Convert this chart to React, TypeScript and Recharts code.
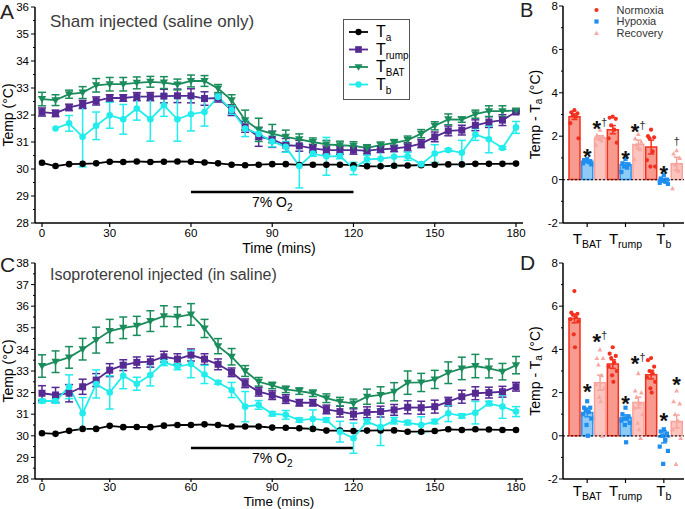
import React from 'react';
import {
  LineChart, Line, XAxis, YAxis, ErrorBar, ReferenceLine, Legend,
  ComposedChart, Bar, Cell, Scatter,
} from 'recharts';

const FONT = '"Liberation Sans", Arial, Helvetica, sans-serif';

// ---------- time course data ----------
const times = [0, 6, 12, 18, 24, 30, 35, 40, 45, 50, 55, 60, 65, 70, 75, 80, 85, 90, 95, 100,
  105, 110, 115, 120, 125, 130, 135, 140, 145, 150, 155, 160, 165, 170, 175, 180];
const timeTicks = [0, 30, 60, 90, 120, 150, 180];
const hypoxiaWindow = [60, 120];

// Panel A: sham
const shamTa = [30.23, 30.11, 30.18, 30.19, 30.21, 30.27, 30.26, 30.28, 30.26, 30.27, 30.28, 30.27, 30.24, 30.21, 30.16, 30.14,
  30.16, 30.18, 30.18, 30.15, 30.16, 30.16, 30.16, 30.14, 30.1, 30.1, 30.12, 30.13, 30.14, 30.16, 30.17, 30.17, 30.19, 30.19, 30.19, 30.2];
const shamTrump = [32.11, 32.06, 32.28, 32.39, 32.52, 32.63, 32.63, 32.68, 32.68, 32.7, 32.71, 32.71, 32.61, 32.63, 32.18, 31.56,
  31.19, 31.1, 30.88, 30.86, 30.76, 30.7, 30.7, 30.7, 30.68, 30.73, 30.76, 30.82, 30.94, 31.19, 31.41, 31.44, 31.62, 31.74, 31.81, 32.11];
const shamTrumpSem = [0.15, 0.12, 0.12, 0.15, 0.15, 0.12, 0.12, 0.15, 0.15, 0.25, 0.25, 0.26, 0.25, 0.15, 0.2, 0.2,
  0.35, 0.3, 0.25, 0.2, 0.15, 0.15, 0.15, 0.15, 0.12, 0.12, 0.12, 0.15, 0.15, 0.18, 0.18, 0.18, 0.2, 0.2, 0.2, 0.05];
const shamBat = [32.59, 32.55, 32.77, 32.83, 33.1, 33.14, 33.14, 33.19, 33.23, 33.2, 33.13, 33.26, 33.26, 32.98, 32.55, 31.81,
  31.45, 31.31, 31.19, 31.1, 31.0, 30.91, 30.88, 30.86, 30.78, 30.88, 30.97, 31.07, 31.31, 31.6, 31.84, 31.83, 32.03, 32.14, 32.14, 32.17];
const shamBatSem = [0.25, 0.2, 0.15, 0.22, 0.25, 0.25, 0.25, 0.22, 0.2, 0.22, 0.2, 0.22, 0.2, 0.15, 0.2, 0.37,
  0.43, 0.34, 0.25, 0.2, 0.15, 0.15, 0.15, 0.15, 0.12, 0.12, 0.12, 0.15, 0.15, 0.15, 0.2, 0.1, 0.15, 0.2, 0.2, 0.05];
const shamTb = [null, 31.5, 31.69, 31.19, 31.6, 31.99, 31.84, 32.24, 31.84, 32.36, 31.84, 32.03, 32.11, 32.67, 32.18, 31.5,
  31.3, 31.02, 30.82, 30.11, 30.57, 30.47, 30.48, 30.02, 30.36, 30.38, 30.45, 30.47, 30.18, 30.57, 30.7, 30.6, 31.28, 31.1, 30.78, 31.54];
const shamTbSem = [null, 0, 0.29, 1.11, 0.51, 0.48, 0.55, 0.43, 0.81, 0.41, 0.81, 0.62, 0.52, 0.1, 0.15, 0.3,
  0.2, 0.2, 0.2, 0.81, 0.1, 0.7, 0.1, 0.23, 0.15, 0.3, 0.37, 0.15, 0.05, 0.33, 0.05, 0.46, 0.22, 0.5, 0.05, 0.22];
const shamYTicks = [28, 28.5, 29, 29.5, 30, 30.5, 31, 31.5, 32, 32.5, 33, 33.5, 34, 34.5, 35, 35.5, 36];
const shamO2Level = 29.15;

// Panel C: isoproterenol
const isoTa = [30.12, 30.09, 30.23, 30.32, 30.32, 30.46, 30.4, 30.41, 30.4, 30.47, 30.5, 30.5, 30.53, 30.5, 30.43, 30.43,
  30.43, 30.38, 30.37, 30.35, 30.32, 30.24, 30.24, 30.22, 30.24, 30.25, 30.25, 30.19, 30.19, 30.22, 30.3, 30.27, 30.3, 30.29, 30.27, 30.27];
const isoTrump = [31.97, 31.89, 31.97, 32.27, 32.58, 33.04, 33.27, 33.4, 33.43, 33.66, 33.55, 33.74, 33.55, 33.31, 32.94, 32.43,
  32.04, 31.88, 31.7, 31.53, 31.53, 31.22, 31.12, 31.0, 31.09, 31.12, 31.2, 31.32, 31.3, 31.35, 31.58, 31.81, 31.97, 32.0, 32.04, 32.27];
const isoTrumpSem = [0.35, 0.35, 0.4, 0.35, 0.3, 0.3, 0.25, 0.25, 0.25, 0.25, 0.25, 0.28, 0.25, 0.25, 0.2, 0.2,
  0.2, 0.2, 0.2, 0.15, 0.15, 0.2, 0.25, 0.25, 0.25, 0.25, 0.25, 0.3, 0.3, 0.3, 0.2, 0.3, 0.3, 0.25, 0.25, 0.2];
const isoBat = [33.23, 33.43, 33.63, 34.01, 34.43, 34.85, 35.0, 35.09, 35.31, 35.54, 35.51, 35.62, 34.97, 34.15, 33.66, 33.0,
  32.5, 32.33, 32.15, 32.07, 31.97, 31.74, 31.58, 31.5, 31.81, 31.89, 32.04, 32.46, 32.47, 32.61, 32.92, 33.12, 33.23, 33.12, 32.97, 33.27];
const isoBatSem = [0.52, 0.5, 0.5, 0.5, 0.6, 0.54, 0.5, 0.44, 0.48, 0.48, 0.46, 0.5, 0.42, 0.35, 0.38, 0.25,
  0.2, 0.15, 0.15, 0.15, 0.15, 0.2, 0.2, 0.2, 0.35, 0.38, 0.42, 0.54, 0.42, 0.42, 0.5, 0.52, 0.54, 0.44, 0.38, 0.4];
const isoTb = [31.61, 31.61, 32.27, 31.04, 32.4, 32.01, 32.78, 32.41, 32.81, 33.4, 33.2, 33.32, 32.84, 32.47, 32.12, 31.35,
  31.43, 31.02, 30.97, 30.73, 30.78, 30.73, 30.19, 29.89, 30.66, 30.4, 30.7, 30.61, 30.5, 30.66, 31.04, 30.92, 31.07, 31.5, 31.35, 31.12];
const isoTbSem = [0.08, 0.1, 0.55, 0.73, 0.65, 0.77, 0.6, 0.3, 0.5, 0.15, 0.14, 0.63, 0.42, 0.08, 0.35, 0.7,
  0.2, 0.1, 0.2, 0.1, 0.42, 0.1, 0.48, 0.7, 0.1, 0.85, 0.15, 0.1, 0.38, 0.1, 0.38, 0.1, 0.52, 0.1, 0.54, 0.23];
const isoYTicks = [28, 28.5, 29, 29.5, 30, 30.5, 31, 31.5, 32, 32.5, 33, 33.5, 34, 34.5, 35, 35.5, 36, 36.5, 37, 37.5, 38];
const isoO2Level = 29.43;

// ---------- bar data (Temp - Ta) ----------
const barKeys = ['BAT-N', 'BAT-H', 'BAT-R', 'rump-N', 'rump-H', 'rump-R', 'b-N', 'b-H', 'b-R'];
const groupLabels = ['BAT', 'rump', 'b'];
const conditions = ['Normoxia', 'Hypoxia', 'Recovery'];
const diffYTicks = [-2, -1, 0, 1, 2, 3, 4, 5, 6, 7, 8];

const shamDiffMean = [2.9, 0.85, 1.92, 2.3, 0.68, 1.62, 1.5, -0.03, 0.73];
const shamDiffSem = [0.13, 0.05, 0.1, 0.19, 0.1, 0.2, 0.32, 0.07, 0.3];
const shamDiffPoints = [
  [3.2, 3.1, 3.05, 2.95, 2.9, 2.6, 1.9],
  [0.95, 0.9, 0.85, 0.85, 0.8, 0.75, 0.7],
  [2.3, 2.05, 2.0, 1.9, 1.8, 1.6],
  [2.9, 2.85, 2.8, 2.5, 2.3, 1.9, 1.7],
  [0.95, 0.75, 0.7, 0.6, 0.55, 0.35],
  [2.1, 1.9, 1.75, 1.6, 1.4, 0.95],
  [2.3, 2.0, 1.95, 1.9, 1.3, 0.9, 0.6, 0.6],
  [0.2, 0.05, 0.0, -0.05, -0.1, -0.15, -0.2],
  [1.35, 1.2, 1.0, 0.7, 0.4, -0.4],
];
const shamSig = ['', '*', '*†', '', '*', '*†', '', '*', '†'];
const shamSigLevel = [null, 1.27, 2.58, null, 1.2, 2.46, null, 0.51, 1.74];

const isoDiffMean = [5.43, 1.08, 2.46, 3.32, 0.85, 1.54, 2.83, -0.05, 0.66];
const isoDiffSem = [0.2, 0.2, 0.35, 0.2, 0.12, 0.25, 0.2, 0.28, 0.3];
const isoDiffPoints = [
  [6.7, 5.7, 5.65, 5.6, 5.5, 5.4, 5.3, 4.7, 4.1],
  [1.6, 1.3, 1.3, 1.2, 1.1, 1.0, 0.8, 0.5, 0.0],
  [4.0, 3.6, 3.6, 3.3, 2.8, 2.4, 2.2, 1.8, 1.6, 0.0],
  [4.1, 3.8, 3.7, 3.6, 3.4, 3.2, 3.0, 2.8, 2.5],
  [1.3, 1.0, 0.9, 0.8, 0.8, 0.7, 0.6, 0.5, -0.3],
  [2.9, 2.1, 2.0, 1.8, 1.5, 1.3, 1.0, 0.6, 0.3, -0.1],
  [3.6, 3.5, 3.2, 3.0, 2.9, 2.7, 2.5, 2.2, 2.0],
  [0.3, 0.2, 0.1, 0.0, -0.2, -0.5, -0.7, -1.3],
  [2.1, 1.6, 1.5, 1.0, 0.7, 0.3, -0.1, -1.3],
];
const isoSig = ['', '*', '*†', '', '*', '*†', '', '*', '*'];
const isoSigLevel = [null, 2.27, 4.58, null, 1.74, 3.55, null, 0.94, 2.58];

// ---------- styles ----------
const PURPLE = '#562A93';
const GREEN = '#1B8C5B';
const CYAN = '#22ECEC';
const condFill = ['#F99A8E', '#8DCBF6', '#FBC4BF'];
const condStroke = ['#F4301E', '#2A93F0', '#F6A39B'];
const condDot = ['#F2301F', '#1E8FF0', '#F7A8A2'];
const SPREAD = [0, -0.24, 0.24, -0.12, 0.12, -0.32, 0.32, -0.05, 0.05, 0.18];
const TICK_FS = 11.5;

type Shape = 'circle' | 'square' | 'tri';
const series: { key: string; sem?: string; color: string; shape: Shape; name: string }[] = [
  { key: 'ta', color: '#000000', shape: 'circle', name: 'a' },
  { key: 'trump', sem: 'trumpSem', color: PURPLE, shape: 'square', name: 'rump' },
  { key: 'bat', sem: 'batSem', color: GREEN, shape: 'tri', name: 'BAT' },
  { key: 'tb', sem: 'tbSem', color: CYAN, shape: 'circle', name: 'b' },
];

function drawMarker(shape: Shape, cx: number, cy: number, color: string, s = 1) {
  if (shape === 'circle') return <circle cx={cx} cy={cy} r={3.3 * s} fill={color} />;
  if (shape === 'square') return <rect x={cx - 3.5 * s} y={cy - 3.5 * s} width={7 * s} height={7 * s} fill={color} />;
  return <path d={`M${cx - 4.2 * s},${cy - 3 * s}L${cx + 4.2 * s},${cy - 3 * s}L${cx},${cy + 4 * s}Z`} fill={color} />;
}

const dotRenderer = (shape: Shape, color: string) => (p: any) => {
  const { cx, cy, index } = p;
  if (cx == null || cy == null || Number.isNaN(cy) || p.value == null) return <g key={`d${index}`} />;
  return <g key={`d${index}`}>{drawMarker(shape, cx, cy, color)}</g>;
};

const TempTick = (props: any) => {
  const { x, y, payload } = props;
  const v = Number(payload.value);
  const major = Math.abs(v - Math.round(v)) < 1e-6;
  return (
    <g>
      <line x1={x} x2={x - (major ? 4 : 2)} y1={y} y2={y} stroke="#000" strokeWidth={1} />
      {major && (
        <text x={x - 6} y={y} dy="0.36em" textAnchor="end" fontSize={TICK_FS} fill="#000">{v}</text>
      )}
    </g>
  );
};

const DiffTick = (props: any) => {
  const { x, y, payload } = props;
  const v = Number(payload.value);
  const major = v % 2 === 0;
  return (
    <g>
      <line x1={x} x2={x - (major ? 4 : 2)} y1={y} y2={y} stroke="#000" strokeWidth={1} />
      {major && (
        <text x={x - 5} y={y} dy="0.36em" textAnchor="end" fontSize={TICK_FS} fill="#000">{v}</text>
      )}
    </g>
  );
};

const GroupTick = (props: any) => {
  const { x, y, payload, lift } = props;
  const idx = typeof payload.index === 'number' ? payload.index : barKeys.indexOf(payload.value);
  if (idx % 3 !== 1) return <g />;
  const g = groupLabels[(idx - 1) / 3];
  return (
    <g>
      <line x1={x} x2={x} y1={y} y2={y + 4} stroke="#000" strokeWidth={1.2} />
      <text x={x} y={y + lift} textAnchor="middle" fontSize={15} fill="#000">
        T<tspan dy={4} fontSize={10.5}>{g}</tspan>
      </text>
    </g>
  );
};

const XTitle = (props: any) => {
  const vb = props.viewBox || { x: 0, y: 0, width: 0 };
  return (
    <text x={vb.x + vb.width / 2} y={vb.y + props.lift} textAnchor="middle" fontSize={props.fs || 14} fill="#000">
      Time (mins)
    </text>
  );
};

const YTitle = (props: any) => {
  const vb = props.viewBox || { x: 0, y: 0, height: 0 };
  const cx = props.cxAbs;
  const cy = vb.y + vb.height / 2;
  return (
    <text transform={`rotate(-90 ${cx} ${cy})`} x={cx} y={cy} textAnchor="middle" dominantBaseline="central" fontSize={14} fill="#000">
      Temp (°C)
    </text>
  );
};

const DiffTitle = (props: any) => {
  const vb = props.viewBox || { x: 0, y: 0, height: 0 };
  const cx = props.cxAbs;
  const cy = vb.y + vb.height / 2;
  return (
    <text transform={`rotate(-90 ${cx} ${cy})`} x={cx} y={cy} textAnchor="middle" dominantBaseline="central" fontSize={14} fill="#000">
      Temp - T<tspan dy={3} fontSize={10}>a</tspan><tspan dy={-3}> (°C)</tspan>
    </text>
  );
};

const O2Label = (props: any) => {
  const vb = props.viewBox || { x: 0, y: 0, width: 0 };
  return (
    <text x={vb.x + vb.width / 2} y={vb.y + 15} textAnchor="middle" fontSize={14} fill="#000">
      7% O<tspan dy={4} fontSize={10}>2</tspan>
    </text>
  );
};

const SeriesLegend = () => (
  <div style={{ width: 67, height: 81, boxSizing: 'border-box', border: '1px solid #555', background: '#fff' }}>
    <svg width={65} height={79} style={{ display: 'block' }}>
      {series.map((s, i) => {
        const cy = 12 + i * 17.5;
        return (
          <g key={s.key}>
            <line x1={5} x2={24} y1={cy} y2={cy} stroke={s.color} strokeWidth={1.8} />
            {drawMarker(s.shape, 14.5, cy, s.color, 0.95)}
            <text x={32} y={cy + 5} fontSize={16} fill="#000">
              T<tspan dy={4} fontSize={10}>{s.name}</tspan>
            </text>
          </g>
        );
      })}
    </svg>
  </div>
);

const condMarker = (k: number, cx: number, cy: number, s = 1) => {
  if (k === 0) return <circle cx={cx} cy={cy} r={2.1 * s} fill={condDot[0]} />;
  if (k === 1) return <rect x={cx - 2.1 * s} y={cy - 2.1 * s} width={4.2 * s} height={4.2 * s} fill={condDot[1]} />;
  return <path d={`M${cx - 2.4 * s},${cy + 2 * s}L${cx + 2.4 * s},${cy + 2 * s}L${cx},${cy - 2.3 * s}Z`} fill={condDot[2]} />;
};

const CondLegend = () => (
  <svg width={95} height={38} style={{ display: 'block' }}>
    {conditions.map((c, i) => {
      const cy = 7 + i * 11.5;
      return (
        <g key={c}>
          {condMarker(i, 6.5, cy)}
          <text x={26.5} y={cy} dy="0.36em" fontSize={11} fill="#333">{c}</text>
        </g>
      );
    })}
  </svg>
);

const SigShape = (props: any) => {
  const { cx, cy, payload } = props;
  if (cx == null || cy == null) return <g />;
  const sig: string = payload.sig;
  if (sig === '†') {
    return <text x={cx} y={cy + 3.3} textAnchor="middle" fontSize={11.5} fill="#333">†</text>;
  }
  if (sig === '*') {
    return <text x={cx} y={cy + 12.3} textAnchor="middle" fontSize={22} fontWeight="bold" fill="#111">*</text>;
  }
  return (
    <text x={cx} y={cy + 12.3} textAnchor="middle" fill="#111">
      <tspan fontSize={22} fontWeight="bold">*</tspan>
      <tspan fontSize={11.5} dy={-10} fill="#333">†</tspan>
    </text>
  );
};

function buildRows(ta: any[], trump: any[], trumpSem: any[], bat: any[], batSem: any[], tb: any[], tbSem: any[]) {
  return times.map((t, i) => ({
    time: t, ta: ta[i], trump: trump[i], trumpSem: trumpSem[i], bat: bat[i], batSem: batSem[i], tb: tb[i], tbSem: tbSem[i],
  }));
}

const TimeCourse = ({ rows, domain, ticks, o2, titleLift, titleFs, xTickSize, xTickMargin, showLegend }: any) => (
  <LineChart width={530} height={260} data={rows} margin={{ top: 7, right: 7, left: 0, bottom: 0 }}>
    <XAxis
      dataKey="time" type="category" scale="point" ticks={timeTicks} interval={0}
      padding={{ left: 7, right: 7 }} height={37} tickSize={xTickSize} tickMargin={xTickMargin}
      tickLine={{ stroke: '#000', strokeWidth: 1.2 }} axisLine={{ stroke: '#000', strokeWidth: 1.5 }}
      tick={{ fontSize: TICK_FS, fill: '#000' }}
      label={<XTitle lift={titleLift} fs={titleFs} />}
    />
    <YAxis
      type="number" domain={domain} ticks={ticks} interval={0} width={35}
      tickSize={0} tickMargin={0} tickLine={false} axisLine={{ stroke: '#000', strokeWidth: 1.5 }}
      tick={<TempTick />} label={<YTitle cxAbs={8} />}
    />
    <ReferenceLine
      segment={[{ x: hypoxiaWindow[0], y: o2 }, { x: hypoxiaWindow[1], y: o2 }]}
      stroke="#000" strokeWidth={2.5} ifOverflow="visible" label={<O2Label />}
    />
    {series.map((s) => (
      <Line
        key={s.key} dataKey={s.key} type="linear" stroke={s.color} strokeWidth={1.8}
        dot={dotRenderer(s.shape, s.color)} activeDot={false} isAnimationActive={false}
      >
        {s.sem && <ErrorBar dataKey={s.sem} direction="y" width={4} stroke={s.color} strokeWidth={1.5} />}
      </Line>
    ))}
    {showLegend && (
      <Legend
        layout="vertical" align="center" verticalAlign="middle"
        wrapperStyle={{ left: 343, top: 19, width: 67, height: 81 }}
        content={<SeriesLegend />}
      />
    )}
  </LineChart>
);

const DiffChart = ({ mean, sem, points, sig, sigLevel, height, tickLift, showLegend }: any) => {
  const rows = barKeys.map((k, i) => ({
    key: k,
    mean: mean[i],
    nErr: i % 3 === 0 ? sem[i] : null,
    hErr: i % 3 === 1 ? sem[i] : null,
    rErr: i % 3 === 2 ? sem[i] : null,
  }));
  const ptsOf = (kind: number) =>
    points.flatMap((vals: number[], i: number) =>
      i % 3 === kind ? vals.map((v, j) => ({ x: i + SPREAD[j % SPREAD.length], y: v })) : []);
  const sigRows = sig
    .map((s: string, i: number) => (s ? { x: i, y: sigLevel[i], sig: s } : null))
    .filter(Boolean);
  const errKeys = ['nErr', 'hErr', 'rErr'];
  return (
    <ComposedChart width={165} height={height} data={rows} margin={{ top: 6, right: 1, left: 0, bottom: 0 }}>
      <XAxis
        dataKey="key" type="category" scale="band" interval={0} padding={{ left: 5, right: 1 }}
        height={30} tickSize={0} tickMargin={0} tickLine={false}
        axisLine={{ stroke: '#000', strokeWidth: 1.5 }} tick={<GroupTick lift={tickLift} />}
      />
      <XAxis xAxisId="num" dataKey="x" type="number" domain={[-0.5, 8.5]} allowDataOverflow hide padding={{ left: 5, right: 1 }} />
      <YAxis
        type="number" domain={[-2, 8]} ticks={diffYTicks} interval={0} width={43}
        tickSize={0} tickMargin={0} tickLine={false} axisLine={{ stroke: '#000', strokeWidth: 1.5 }}
        tick={<DiffTick />} label={<DiffTitle cxAbs={15} />}
      />
      <Bar dataKey="mean" barSize={11} isAnimationActive={false}>
        {rows.map((r, i) => (
          <Cell key={r.key} fill={condFill[i % 3]} stroke={condStroke[i % 3]} strokeWidth={1.5} />
        ))}
        {errKeys.map((ek, k) => (
          <ErrorBar key={ek} dataKey={ek} direction="y" width={3} stroke={condStroke[k]} strokeWidth={1.5} />
        ))}
      </Bar>
      <ReferenceLine y={0} stroke="#222" strokeWidth={1.2} strokeDasharray="2 2" />
      {[0, 1, 2].map((k) => (
        <Scatter
          key={`pts${k}`} xAxisId="num" data={ptsOf(k)} dataKey="y" isAnimationActive={false}
          shape={(p: any) => <g>{condMarker(k, p.cx, p.cy)}</g>}
        />
      ))}
      <Scatter xAxisId="num" data={sigRows} dataKey="y" isAnimationActive={false} shape={<SigShape />} />
      {showLegend && (
        <Legend
          layout="vertical" align="center" verticalAlign="middle"
          wrapperStyle={{ left: 70, top: 3, width: 95, height: 38 }}
          content={<CondLegend />}
        />
      )}
    </ComposedChart>
  );
};

export default function App() {
  const shamRows = buildRows(shamTa, shamTrump, shamTrumpSem, shamBat, shamBatSem, shamTb, shamTbSem);
  const isoRows = buildRows(isoTa, isoTrump, isoTrumpSem, isoBat, isoBatSem, isoTb, isoTbSem);
  return (
    <div style={{ position: 'absolute', left: 0, top: 0, width: 685, height: 509, background: '#fff', overflow: 'hidden', fontFamily: FONT }}>
      <div style={{ position: 'absolute', left: 0, top: 0 }}>
        <TimeCourse rows={shamRows} domain={[28, 36]} ticks={shamYTicks} o2={shamO2Level}
          titleLift={30} titleFs={14} xTickSize={4} xTickMargin={2} showLegend />
      </div>
      <div style={{ position: 'absolute', left: 0, top: 256 }}>
        <TimeCourse rows={isoRows} domain={[28, 38]} ticks={isoYTicks} o2={isoO2Level}
          titleLift={27} titleFs={13.5} xTickSize={3} xTickMargin={1} showLegend={false} />
      </div>
      <div style={{ position: 'absolute', left: 520, top: 0 }}>
        <DiffChart mean={shamDiffMean} sem={shamDiffSem} points={shamDiffPoints} sig={shamSig} sigLevel={shamSigLevel}
          height={253} tickLift={21} showLegend />
      </div>
      <div style={{ position: 'absolute', left: 520, top: 257 }}>
        <DiffChart mean={isoDiffMean} sem={isoDiffSem} points={isoDiffPoints} sig={isoSig} sigLevel={isoSigLevel}
          height={252} tickLift={17} showLegend={false} />
      </div>
      <svg width={685} height={509} style={{ position: 'absolute', left: 0, top: 0, pointerEvents: 'none' }}>
        <text x={0} y={18.5} fontSize={21} fill="#222">A</text>
        <text x={50} y={27} fontSize={17} fill="#3c3c3c">Sham injected (saline only)</text>
        <text x={520} y={17} fontSize={20} fill="#222">B</text>
        <text x={0} y={271.5} fontSize={21} fill="#222">C</text>
        <text x={50} y={280} fontSize={16} fill="#3c3c3c">Isoproterenol injected (in saline)</text>
        <text x={520} y={270} fontSize={21} fill="#222">D</text>
      </svg>
    </div>
  );
}
